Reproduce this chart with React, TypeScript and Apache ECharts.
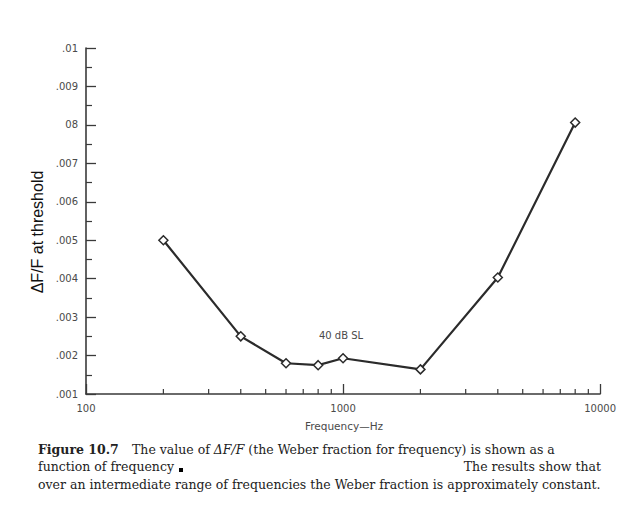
import React, { useEffect, useRef } from "react";
import * as echarts from "echarts";

// ---- data ----
const frequencies = [200, 400, 600, 800, 1000, 2000, 4000, 8000];
const weberFractions = [0.005, 0.0025, 0.0018, 0.00175, 0.00193, 0.00164, 0.00403, 0.00806];
const xMinorTicks = [200, 300, 400, 500, 600, 700, 800, 900, 2000, 3000, 4000, 5000, 6000, 7000, 8000, 9000];
const xTickLabels: Record<number, string> = { 100: "100", 1000: "1000", 10000: "10000" };
const yTickLabels = [".001", ".002", ".003", ".004", ".005", ".006", ".007", "08", ".009", ".01"];
const yAxisTitle = "ΔF/F at threshold";
const xAxisTitle = "Frequency—Hz";
const curveLabel = "40 dB SL";
const captionLine1Head = "Figure 10.7";
const captionLine1Tail = "The value of {i|ΔF/F} (the Weber fraction for frequency) is shown as a";
const captionLine2Left = "function of frequency";
const captionLine2Right = "The results show that";
const captionLine3 = "over an intermediate range of frequencies the Weber fraction is approximately constant.";

const AXIS = "#3a3a3a";
const TEXT = "#4a4a4a";

export default function App() {
  const ref = useRef<HTMLDivElement>(null);
  useEffect(() => {
    if (!ref.current) return;
    const chart = echarts.init(ref.current, undefined, { renderer: "svg" });
    const serif = "DejaVu Serif";
    chart.setOption({
      animation: false,
      backgroundColor: "#ffffff",
      grid: { left: 86, right: 18, top: 48, bottom: 120, containLabel: false },
      xAxis: {
        type: "log",
        logBase: 10,
        min: 100,
        max: 10000,
        axisLine: { show: true, lineStyle: { color: AXIS, width: 1.6 } },
        axisTick: { show: true, inside: true, length: 10, lineStyle: { color: AXIS, width: 1.3 } },
        minorTick: { show: false },
        splitLine: { show: false },
        axisLabel: {
          margin: 9,
          color: TEXT,
          fontFamily: "DejaVu Sans",
          fontSize: 10,
          formatter: (v: number) => xTickLabels[Math.round(v)] ?? "",
        },
      },
      yAxis: {
        type: "value",
        min: 0.001,
        max: 0.01,
        interval: 0.001,
        axisLine: { show: true, lineStyle: { color: AXIS, width: 1.6 } },
        axisTick: { show: true, inside: true, length: 10, lineStyle: { color: AXIS, width: 1.3 } },
        minorTick: { show: true, splitNumber: 2, length: 6, lineStyle: { color: AXIS, width: 1.2 } },
        splitLine: { show: false },
        axisLabel: {
          margin: 8,
          color: TEXT,
          fontFamily: "DejaVu Sans",
          fontSize: 10,
          formatter: (v: number) => yTickLabels[Math.round((v - 0.001) / 0.001)] ?? "",
        },
      },
      series: [
        {
          type: "custom",
          silent: true,
          clip: false,
          data: xMinorTicks.map((v) => [v, 0.001]),
          encode: { x: 0, y: 1 },
          renderItem: (params: any, api: any) => {
            const p = api.coord([api.value(0), api.value(1)]);
            return {
              type: "line",
              shape: { x1: p[0], y1: p[1], x2: p[0], y2: p[1] - 5 },
              style: { stroke: AXIS, lineWidth: 1.2 },
            };
          },
          z: 1,
        },
        {
          type: "line",
          data: frequencies.map((f, i) => [f, weberFractions[i]]),
          symbol: "diamond",
          symbolSize: 9,
          lineStyle: { color: "#2b2b2b", width: 2.2 },
          itemStyle: { color: "#ffffff", borderColor: "#2b2b2b", borderWidth: 1.5 },
          z: 3,
        },
      ],
      graphic: [
        {
          type: "text",
          x: 37,
          y: 232,
          rotation: Math.PI / 2,
          style: {
            text: yAxisTitle,
            fontFamily: "Liberation Sans",
            fontSize: 16,
            fill: "#111",
            textAlign: "center",
            textVerticalAlign: "middle",
          },
        },
        {
          type: "text",
          x: 341,
          y: 335,
          style: {
            text: curveLabel,
            fontFamily: "DejaVu Sans",
            fontSize: 10,
            fill: TEXT,
            textAlign: "center",
            textVerticalAlign: "middle",
          },
        },
        {
          type: "text",
          x: 344,
          y: 426,
          style: {
            text: xAxisTitle,
            fontFamily: "DejaVu Sans",
            fontSize: 10.5,
            fill: TEXT,
            textAlign: "center",
            textVerticalAlign: "middle",
          },
        },
        {
          type: "text",
          x: 38,
          y: 449,
          style: {
            text: captionLine1Head,
            fontFamily: serif,
            fontWeight: "bold",
            fontSize: 12.5,
            fill: "#222",
            textVerticalAlign: "middle",
          },
        },
        {
          type: "text",
          x: 132,
          y: 449,
          style: {
            text: captionLine1Tail,
            fontFamily: serif,
            fontSize: 12.5,
            fill: "#222",
            textVerticalAlign: "middle",
            rich: {
              i: { fontFamily: serif, fontStyle: "italic", fontSize: 12.5, fill: "#222" },
            },
          },
        },
        {
          type: "text",
          x: 38,
          y: 466.5,
          style: {
            text: captionLine2Left,
            fontFamily: serif,
            fontSize: 12.5,
            fill: "#222",
            textVerticalAlign: "middle",
          },
        },
        {
          type: "rect",
          shape: { x: 179, y: 468, width: 4, height: 4 },
          style: { fill: "#000" },
        },
        {
          type: "text",
          x: 601,
          y: 466.5,
          style: {
            text: captionLine2Right,
            fontFamily: serif,
            fontSize: 12.5,
            fill: "#222",
            textAlign: "right",
            textVerticalAlign: "middle",
          },
        },
        {
          type: "text",
          x: 38,
          y: 484,
          style: {
            text: captionLine3,
            fontFamily: serif,
            fontSize: 12.5,
            fill: "#222",
            textVerticalAlign: "middle",
          },
        },
      ],
    });
    return () => chart.dispose();
  }, []);
  return (
    <div
      ref={ref}
      style={{ position: "fixed", left: 0, top: 0, width: 619, height: 514, background: "#fff" }}
    />
  );
}
